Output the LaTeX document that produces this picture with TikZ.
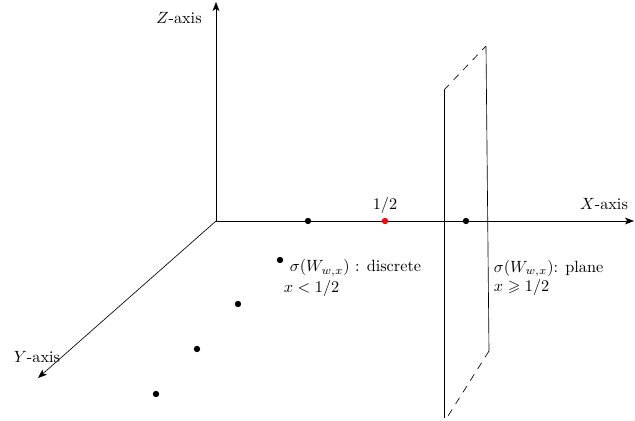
\documentclass[tikz,border=0pt]{standalone}
\usepackage{amssymb}
\usetikzlibrary{positioning,arrows.meta}
\begin{document}
\begin{tikzpicture}[x=0.0216cm,y=-0.0216cm,>={Stealth[length=5.5pt,width=4.2pt,inset=1.4pt]}]
 \useasboundingbox (0,0) rectangle (635,421);
 \tikzset{dot/.style={circle,fill,inner sep=0pt,minimum size=3.9pt},
   lbl/.style={inner sep=1pt},
   planeedge/.style={dash pattern=on 4.5pt off 4pt}}
 % axes
 \coordinate (O) at (216,221);
 \coordinate (xend) at (634,221);
 \coordinate (zend) at (216,2);
 \coordinate (yend) at (38,378);
 \draw[->] (O) -- (xend);
 \draw[->] (O) -- (zend);
 \draw[->] (O) -- (yend);
 \node[lbl] (xlab) at (604,204) {$X$-axis};
 \node[lbl] (zlab) at (179,18) {$Z$-axis};
 \node[lbl] (ylab) at (37,357) {$Y$-axis};
 % points on the X-axis
 \node[dot] (p1) at (308,221) {};
 \node[dot,red] (half) at (385,221) {};
 \node[dot] (p2) at (466,221) {};
 \node[lbl,above=1pt of half] (halflab) {$1/2$};
 % discrete points
 \node[dot] (d1) at (280,260) {};
 \node[dot] (d2) at (238,304) {};
 \node[dot] (d3) at (197,349) {};
 \node[dot] (d4) at (156,394) {};
 \node[lbl,anchor=west] (disc1) at (288,268) {$\sigma(W_{w,x})$ : discrete};
 \node[lbl,anchor=west] (disc2) at (282,288) {$x<1/2$};
 % the plane
 \coordinate (a1) at (444,90);
 \coordinate (a2) at (444,418);
 \coordinate (b1) at (486,46);
 \coordinate (b2) at (489,351);
 \coordinate (c2) at (448,416);
 \draw (a1) -- (a2);
 \draw (b1) -- (b2);
 \draw[planeedge] (a1) -- (b1);
 \draw[planeedge] (b2) -- (c2);
 \node[lbl,anchor=west,align=left] (plane) at (492,278)
   {$\sigma(W_{w,x})$: plane\\ $x\geqslant 1/2$};
\end{tikzpicture}
\end{document}
